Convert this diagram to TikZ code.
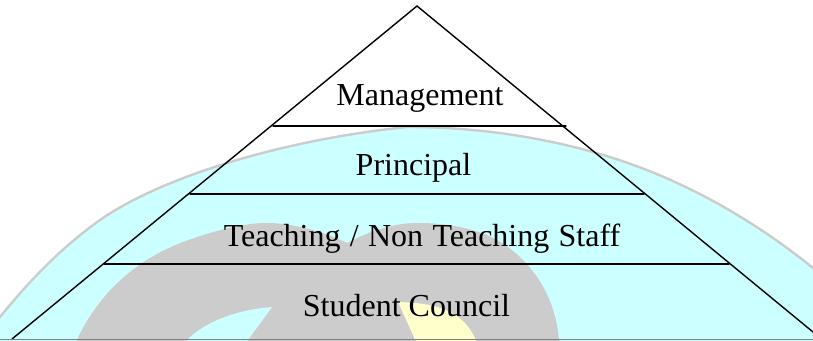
\documentclass[tikz,border=0pt]{standalone}
\usepackage{fontspec}
\setmainfont{Liberation Serif}
\definecolor{wmcyan}{HTML}{CCFFFF}
\definecolor{wmgray}{HTML}{CCCCCC}
\definecolor{wmyellow}{HTML}{FFFFCC}
\tikzset{
  pyrline/.style={draw=black,line width=1.4pt,line cap=round},
  tierlabel/.style={font=\fontsize{32}{36}\selectfont,inner sep=0pt,text=black,anchor=base}
}
\begin{document}
\begin{tikzpicture}[x=1pt,y=-1pt]
\useasboundingbox (0,0) rectangle (813,340);
\fill[white] (0,0) rectangle (813,340);
\begin{scope}
\clip (0,0) rectangle (813,340);
\draw[draw=wmgray,line width=2.4pt,fill=wmcyan] (-6,324) .. controls (-4,321) and (-2,319) .. (0,317) .. controls (30,280) and (62,247) .. (100,220) .. controls (160,178) and (280,140) .. (407,127) .. controls (500,127) and (580,145) .. (639,167) .. controls (700,190) and (760,225) .. (813,268) -- (820,274) -- (820,346) -- (-6,346) -- cycle;
\fill[wmgray] (74,346) -- (77,340) .. controls (95,300) and (130,262) .. (183,242) .. controls (210,232) and (245,222) .. (270,223) .. controls (295,224) and (325,232) .. (347,243) .. controls (365,233) and (395,222) .. (420,223) .. controls (445,223) and (470,228) .. (487,235) .. controls (525,252) and (555,290) .. (559,340) -- (559,346) -- cycle;
\fill[wmcyan] (181,346) -- (187,340) .. controls (205,322) and (235,310) .. (272,307) -- (248,340) -- (244,346) -- cycle;
\fill[wmyellow] (398,302) .. controls (425,303) and (465,305) .. (478,346) -- (418,346) -- cycle;
\end{scope}
\coordinate (apex) at (417,6);
\coordinate (bl) at (12,339);
\coordinate (br) at (813,332);
\draw[pyrline] (bl) -- (apex) -- (br);
\coordinate (t1l) at (273,126);
\coordinate (t1r) at (566,126);
\coordinate (t2l) at (190,194);
\coordinate (t2r) at (644,194);
\coordinate (t3l) at (104,264);
\coordinate (t3r) at (729,264);
\draw[pyrline] (t1l) -- (t1r);
\draw[pyrline] (t2l) -- (t2r);
\draw[pyrline] (t3l) -- (t3r);
\draw[draw=gray,line width=1.4pt] (0,339.6) -- (813,339.6);
\node[tierlabel] (mgmt) at (420,105) {Management};
\node[tierlabel] (prin) at (413.5,175) {Principal};
\node[tierlabel] (staff) at (422,246) {\spaceskip=9.3pt Teaching / Non Teaching Staff};
\node[tierlabel] (council) at (406.5,316) {Student Council};
\end{tikzpicture}
\end{document}
